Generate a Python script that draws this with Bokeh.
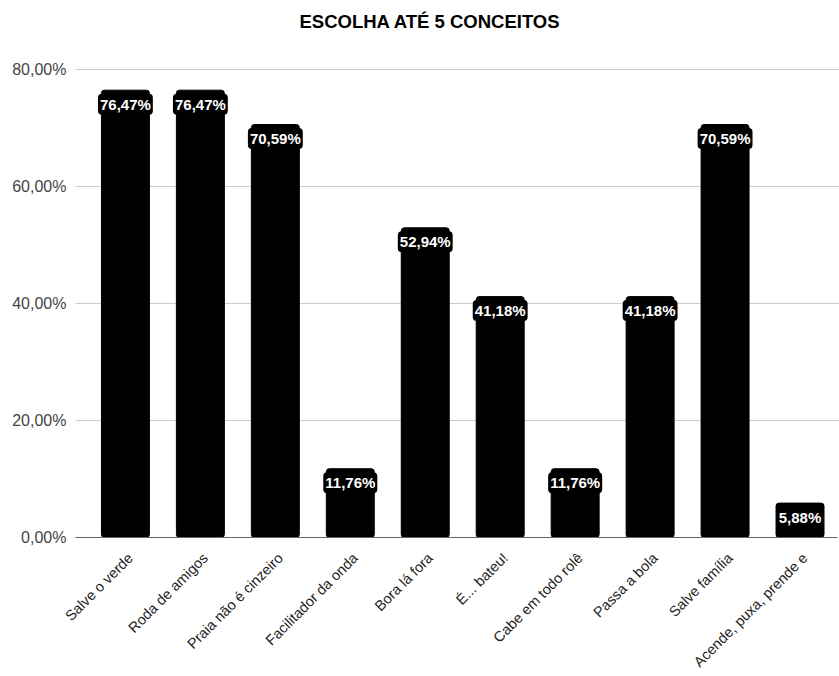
from bokeh.plotting import figure
from bokeh.models import Range1d, ColumnDataSource
from bokeh.core.properties import value
from bokeh.embed import file_html
from bokeh.resources import INLINE
import math

categories = ["Salve o verde", "Roda de amigos", "Praia não é cinzeiro", "Facilitador da onda",
              "Bora lá fora", "É... bateu!", "Cabe em todo rolê", "Passa a bola",
              "Salve família", "Acende, puxa, prende e"]
values = [76.47, 76.47, 70.59, 11.76, 52.94, 41.18, 11.76, 41.18, 70.59, 5.88]
y_ticks = [0, 20, 40, 60, 80]
y_tick_labels = ["0,00%", "20,00%", "40,00%", "60,00%", "80,00%"]
title_text = "ESCOLHA ATÉ 5 CONCEITOS"

W, H = 839, 676
# layout constants (pixels)
area_left, area_right_pad, area_top, area_bottom_pad = 75, 2, 69, 139
px_x = 75.0            # pixels per category
px_y = 468 / 80        # pixels per percent

# data-space edges of the chart area
x_lo = -0.5 - 12.5 / px_x
x_hi = len(categories) - 0.5
y_lo, y_hi = 0, 80

xs = list(range(len(categories)))
labels = [f"{v:.2f}".replace(".", ",") + "%" for v in values]
src = ColumnDataSource(dict(x=xs, top=values, label=labels, cat=categories,
                            zero=[0] * len(xs)))

p = figure(width=W, height=H, output_backend="svg", toolbar_location=None,
           x_range=Range1d(x_lo - area_left / px_x, x_hi + area_right_pad / px_x),
           y_range=Range1d(y_lo - area_bottom_pad / px_y, y_hi + area_top / px_y),
           min_border=0)
p.outline_line_color = None
p.background_fill_color = "white"
p.border_fill_color = "white"
p.xaxis.visible = False
p.yaxis.visible = False
p.xgrid.visible = False
p.ygrid.visible = False

# gridlines and baseline
grid_ticks = [t for t in y_ticks if t != 0]
p.segment(x0=[x_lo] * len(grid_ticks), x1=[x_hi + area_right_pad / px_x] * len(grid_ticks),
          y0=grid_ticks, y1=grid_ticks, line_color="#cccccc", line_width=1)

p.vbar(x="x", top="top", width=0.64, bottom=0, source=src,
       fill_color="black", line_color="black", border_radius=3)

p.segment(x0=[x_lo], x1=[x_hi], y0=[0], y1=[0], line_color="#666666", line_width=1)

# y tick labels
p.text(x=[x_lo] * len(y_ticks), y=y_ticks, text=y_tick_labels, x_offset=-9,
       text_align="right", text_baseline="middle", text_font=value("Liberation Sans"),
       text_font_size="16px", text_color="#444444")

# value labels
p.text(x="x", y="top", text="label", source=src, text_align="center", text_baseline="middle",
       y_offset=14, text_color="white", text_font=value("Liberation Sans"),
       text_font_size="15px", text_font_style="bold",
       background_fill_color="black", padding=2, border_radius=4)

# category labels, rotated 45 degrees below the baseline
p.text(x="x", y="zero", text="cat", source=src, angle=math.pi / 4,
       x_offset=5, y_offset=18, text_align="right", text_baseline="middle",
       text_font=value("Liberation Sans"), text_font_size="14.5px", text_color="#222222")

# title
p.text(x=[x_lo + (430 - area_left) / px_x], y=[y_hi], text=[title_text], y_offset=-48,
       text_align="center", text_baseline="middle", text_font=value("Liberation Sans"),
       text_font_size="18.5px", text_font_style="bold", text_color="#000000")

open("out.html", "w").write(file_html(p, INLINE))
